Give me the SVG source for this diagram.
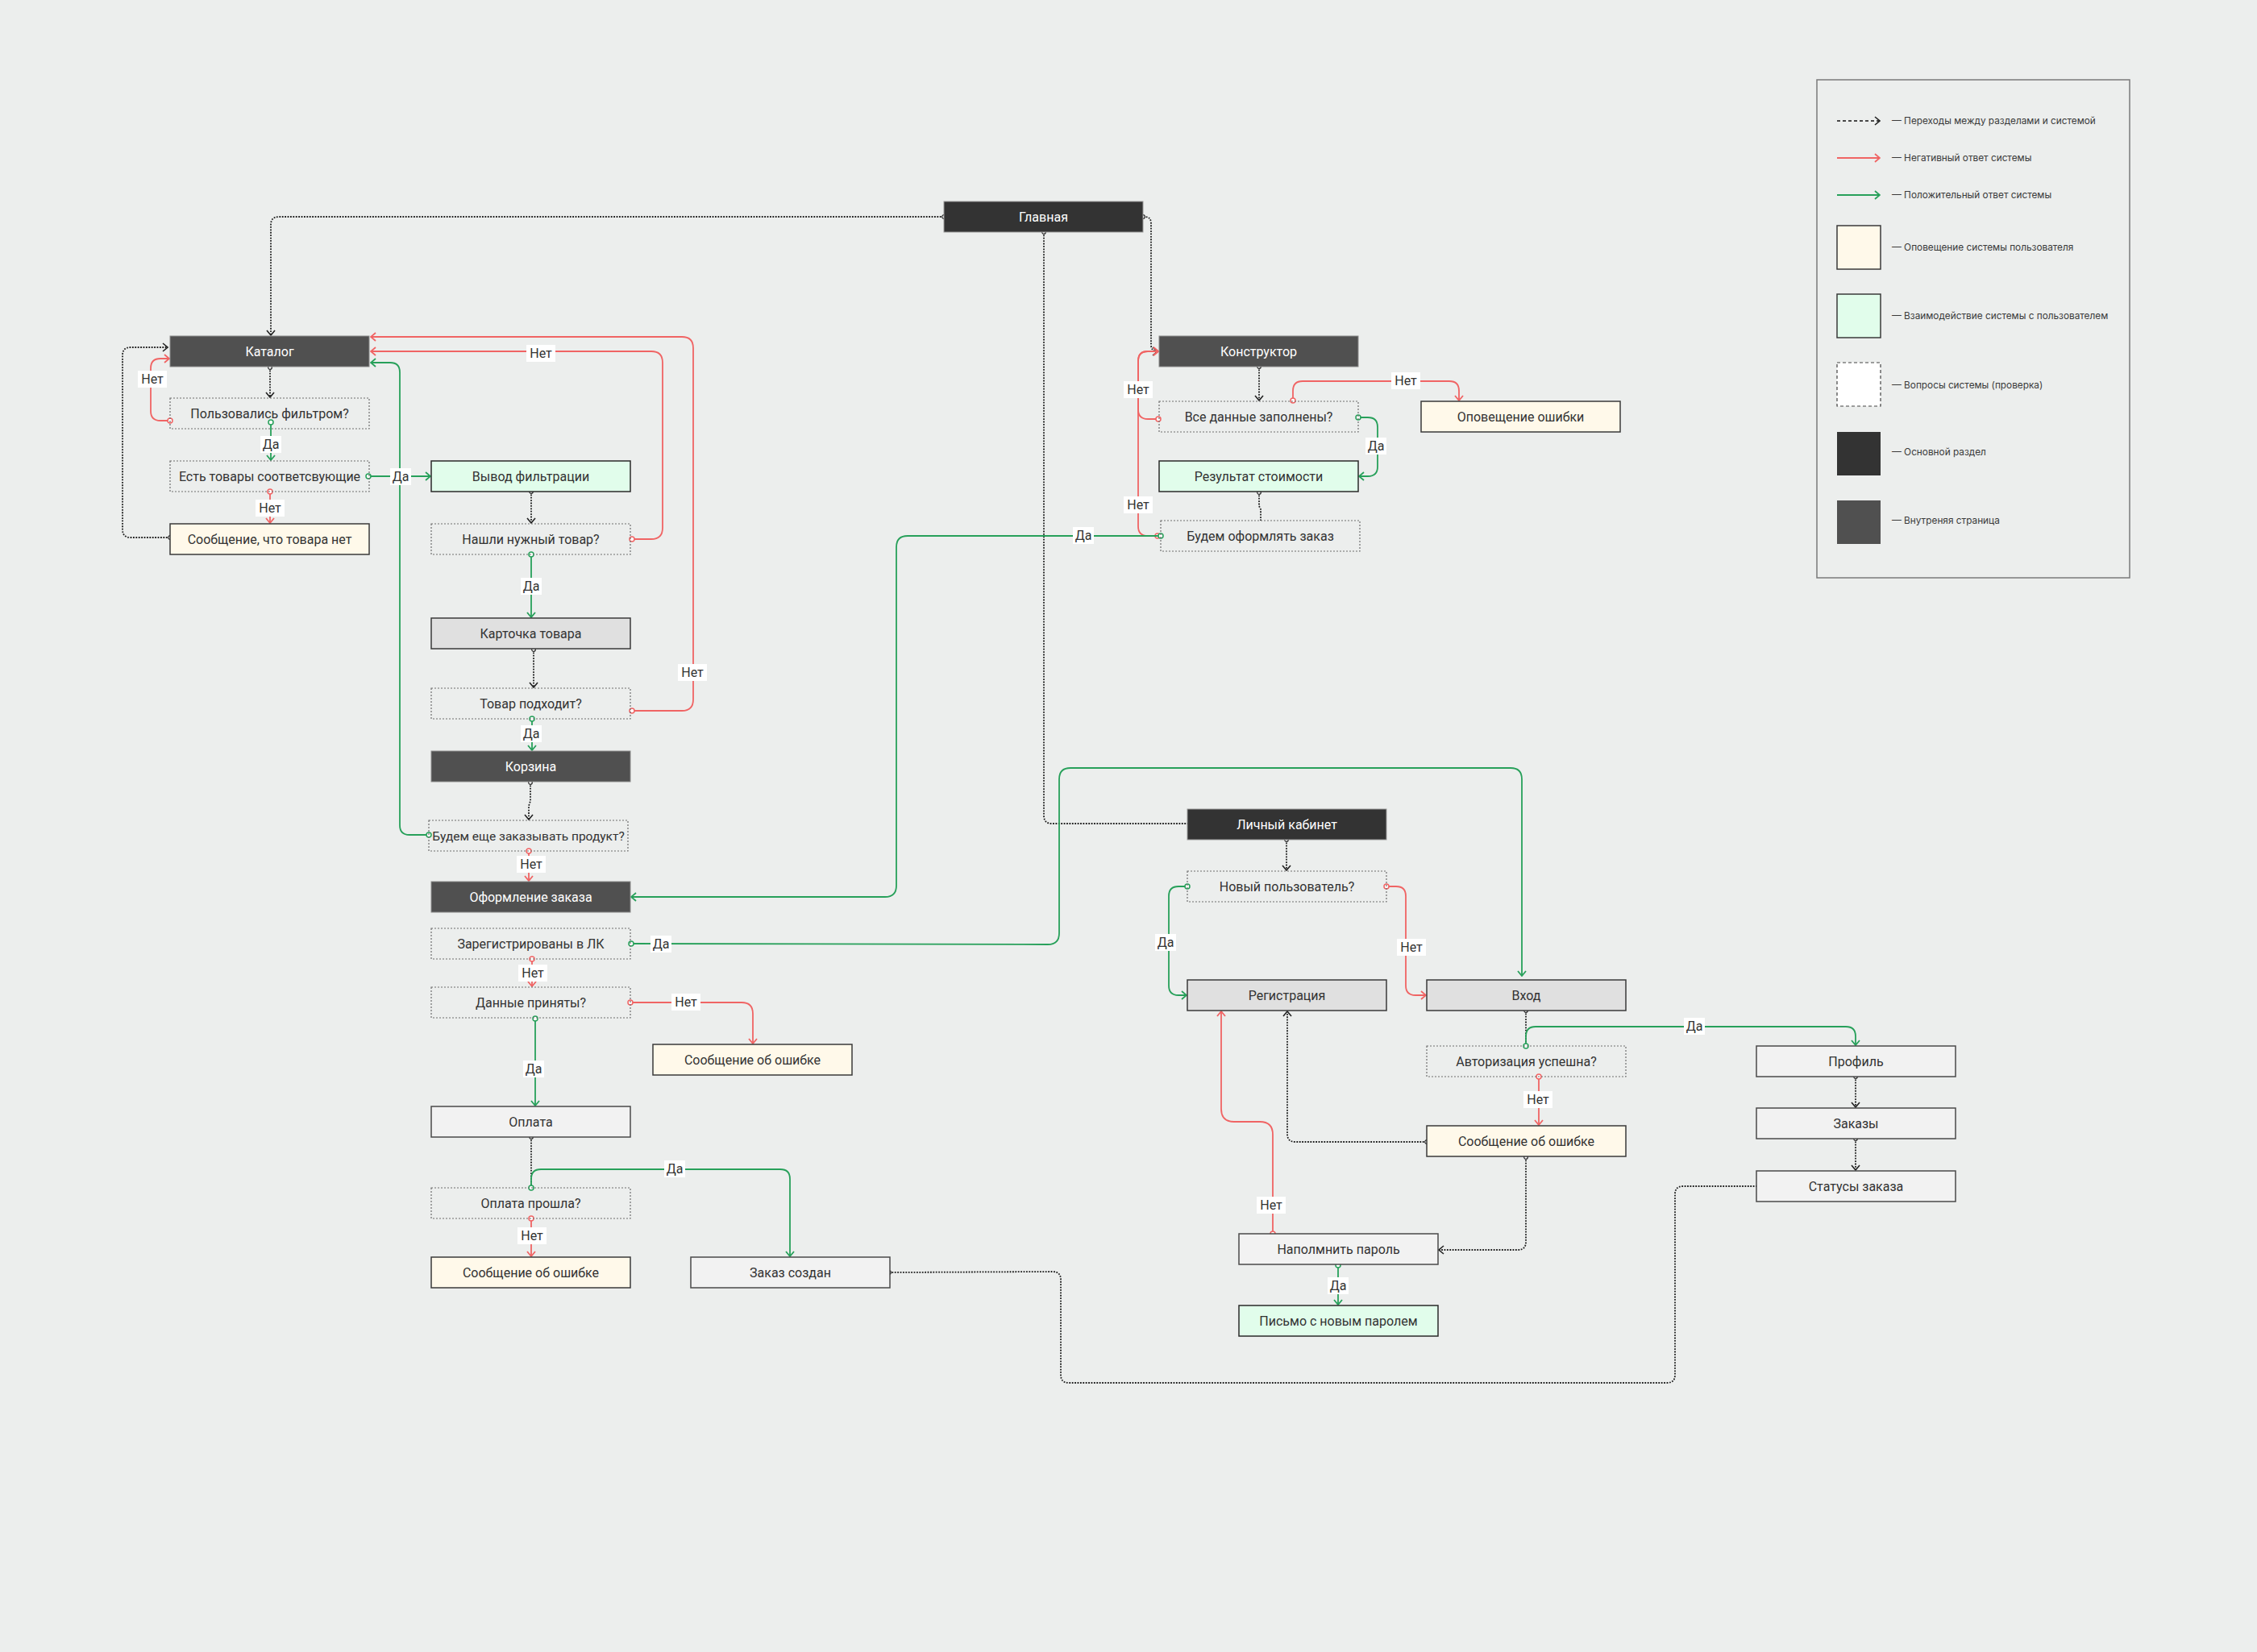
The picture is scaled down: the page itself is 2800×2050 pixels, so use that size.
<svg xmlns="http://www.w3.org/2000/svg" width="2800" height="2050" viewBox="0 0 2800 2050">
<style>
.bg{fill:#ECEEED}
.n rect{stroke-width:1.5}
.n text{font-family:Roboto,"Liberation Sans",sans-serif;font-size:16px;text-anchor:middle}
.dark rect{fill:#333333;stroke:#9A9A9A;stroke-width:1}
.inner rect{fill:#505050;stroke:#8A8A8A;stroke-width:1}
.dark text,.inner text{fill:#FFFFFF}
.q rect{fill:none;stroke:#6E6E6E;stroke-width:1.2;stroke-dasharray:2 2}
.yel rect{fill:#FFF9EA;stroke:#3A3A3A}
.grn rect{fill:#E1FDEB;stroke:#2A2A2A}
.gry rect{fill:#E0E0E0;stroke:#3A3A3A}
.lt rect{fill:#F2F2F2;stroke:#4A4A4A}
.q text,.yel text,.grn text,.gry text,.lt text{fill:#333333}
.c path{fill:none}
.cd{stroke:#1E1E1E;stroke-width:1.8;stroke-dasharray:1.8 1.6}
.cr{stroke:#F06464;stroke-width:1.8}
.cg{stroke:#27A05A;stroke-width:1.8}
.lb rect{fill:#FFFFFF}
.lb text{font-family:Roboto,"Liberation Sans",sans-serif;font-size:16px;fill:#333;text-anchor:middle}
.lg text{font-family:Inter,Roboto,"Liberation Sans",sans-serif;font-size:11.8px;fill:#3A3A3A}
</style>
<defs>
<marker id="aK" viewBox="0 0 12 12" refX="11" refY="6" markerWidth="12" markerHeight="12" markerUnits="userSpaceOnUse" orient="auto"><path d="M5,1 L11,6 L5,11" fill="none" stroke="#222" stroke-width="1.6"/></marker>
<marker id="aR" viewBox="0 0 12 12" refX="11" refY="6" markerWidth="12" markerHeight="12" markerUnits="userSpaceOnUse" orient="auto"><path d="M5,1 L11,6 L5,11" fill="none" stroke="#F06464" stroke-width="1.8"/></marker>
<marker id="aG" viewBox="0 0 12 12" refX="11" refY="6" markerWidth="12" markerHeight="12" markerUnits="userSpaceOnUse" orient="auto"><path d="M5,1 L11,6 L5,11" fill="none" stroke="#27A05A" stroke-width="1.8"/></marker>
<marker id="sK" viewBox="0 0 8 8" refX="4" refY="4" markerWidth="8" markerHeight="8" markerUnits="userSpaceOnUse"><circle cx="4" cy="4" r="2.3" fill="#FFFFFF" stroke="#222" stroke-width="1.2"/></marker>
<marker id="sR" viewBox="0 0 10 10" refX="5" refY="5" markerWidth="10" markerHeight="10" markerUnits="userSpaceOnUse"><circle cx="5" cy="5" r="3" fill="#FFFFFF" stroke="#F06464" stroke-width="1.5"/></marker>
<marker id="sG" viewBox="0 0 10 10" refX="5" refY="5" markerWidth="10" markerHeight="10" markerUnits="userSpaceOnUse"><circle cx="5" cy="5" r="3" fill="#FFFFFF" stroke="#27A05A" stroke-width="1.5"/></marker>
</defs>
<rect class="bg" x="0" y="0" width="2800" height="2050"/>

<g id="connectors" class="c">
<!-- dotted transitions -->
<path class="cd" d="M1171,269 L346,269 Q336,269 336,279 L336,416" marker-start="url(#sK)" marker-end="url(#aK)"/>
<path class="cd" d="M1418,269 L1420,269 Q1428,269 1428,277 L1428,428 Q1428,436 1436,436" marker-start="url(#sK)" marker-end="url(#aK)"/>
<path class="cd" d="M1295,288 L1295,1012 Q1295,1022 1305,1022 L1473,1022" marker-start="url(#sK)"/>
<path class="cd" d="M335,456 L335,493" marker-start="url(#sK)" marker-end="url(#aK)"/>
<path class="cd" d="M211,667 L162,667 Q152,667 152,657 L152,441 Q152,431 162,431 L208,431" marker-start="url(#sK)" marker-end="url(#aK)"/>
<path class="cd" d="M659,610 L659,649" marker-start="url(#sK)" marker-end="url(#aK)"/>
<path class="cd" d="M662,806 L662,853" marker-start="url(#sK)" marker-end="url(#aK)"/>
<path class="cd" d="M658,971 L658,994 L656,1000 L656,1017" marker-start="url(#sK)" marker-end="url(#aK)"/>
<path class="cd" d="M1562,455 L1562,497" marker-start="url(#sK)" marker-end="url(#aK)"/>
<path class="cd" d="M1562,611 L1562,628 L1564,632 L1564,646" marker-start="url(#sK)"/>
<path class="cd" d="M659,1411 L659,1474" marker-start="url(#sK)"/>
<path class="cd" d="M1103,1579 L1306,1578 Q1316,1578 1316,1588 L1316,1706 Q1316,1716 1326,1716 L2068,1716 Q2078,1716 2078,1706 L2078,1482 Q2078,1472 2088,1472 L2179,1472" marker-start="url(#sK)"/>
<path class="cd" d="M1596,1042 L1596,1080" marker-start="url(#sK)" marker-end="url(#aK)"/>
<path class="cd" d="M1893,1254 L1893,1298" marker-start="url(#sK)"/>
<path class="cd" d="M1770,1417 L1607,1417 Q1597,1417 1597,1407 L1597,1255" marker-start="url(#sK)" marker-end="url(#aK)"/>
<path class="cd" d="M1893,1436 L1893,1541 Q1893,1551 1883,1551 L1785,1551" marker-start="url(#sK)" marker-end="url(#aK)"/>
<path class="cd" d="M2302,1336 L2302,1374" marker-start="url(#sK)" marker-end="url(#aK)"/>
<path class="cd" d="M2302,1413 L2302,1452" marker-start="url(#sK)" marker-end="url(#aK)"/>
<!-- negative (red) -->
<path class="cr" d="M211,522 L199,522 Q187,522 187,510 L187,457 Q187,445 199,445 L210,445" marker-start="url(#sR)" marker-end="url(#aR)"/>
<path class="cr" d="M335,610 L335,649" marker-start="url(#sR)" marker-end="url(#aR)"/>
<path class="cr" d="M784,669 L808,669 Q822,669 822,655 L822,450 Q822,436 808,436 L460,436" marker-start="url(#sR)" marker-end="url(#aR)"/>
<path class="cr" d="M784,882 L846,882 Q860,882 860,868 L860,432 Q860,418 846,418 L460,418" marker-start="url(#sR)" marker-end="url(#aR)"/>
<path class="cr" d="M656,1056 L656,1093" marker-start="url(#sR)" marker-end="url(#aR)"/>
<path class="cr" d="M1437,520 L1424,520 Q1412,520 1412,508 L1412,448 Q1412,436 1424,436 L1437,436" marker-start="url(#sR)" marker-end="url(#aR)"/>
<path class="cr" d="M1436,665 L1424,665 Q1412,665 1412,653 L1412,448 Q1412,436 1424,436 L1437,436" marker-start="url(#sR)" marker-end="url(#aR)"/>
<path class="cr" d="M1604,497 L1604,485 Q1604,473 1616,473 L1798,473 Q1810,473 1810,485 L1810,497" marker-start="url(#sR)" marker-end="url(#aR)"/>
<path class="cr" d="M660,1190 L660,1224" marker-start="url(#sR)" marker-end="url(#aR)"/>
<path class="cr" d="M782,1244 L920,1244 Q934,1244 934,1258 L934,1295" marker-start="url(#sR)" marker-end="url(#aR)"/>
<path class="cr" d="M659,1512 L659,1559" marker-start="url(#sR)" marker-end="url(#aR)"/>
<path class="cr" d="M1720,1100 L1732,1100 Q1744,1100 1744,1112 L1744,1223 Q1744,1235 1756,1235 L1769,1235" marker-start="url(#sR)" marker-end="url(#aR)"/>
<path class="cr" d="M1909,1336 L1909,1396" marker-start="url(#sR)" marker-end="url(#aR)"/>
<path class="cr" d="M1579,1531 L1579,1408 Q1579,1392 1563,1392 L1531,1392 Q1515,1392 1515,1376 L1515,1255" marker-start="url(#sR)" marker-end="url(#aR)"/>
<!-- positive (green) -->
<path class="cg" d="M336,524 L336,571" marker-start="url(#sG)" marker-end="url(#aG)"/>
<path class="cg" d="M457,591 L534,591" marker-start="url(#sG)" marker-end="url(#aG)"/>
<path class="cg" d="M659,688 L659,766" marker-start="url(#sG)" marker-end="url(#aG)"/>
<path class="cg" d="M660,892 L660,931" marker-start="url(#sG)" marker-end="url(#aG)"/>
<path class="cg" d="M532,1036 L508,1036 Q496,1036 496,1024 L496,462 Q496,450 484,450 L460,450" marker-start="url(#sG)" marker-end="url(#aG)"/>
<path class="cg" d="M1440,665 L1126,665 Q1112,665 1112,679 L1112,1099 Q1112,1113 1098,1113 L783,1113" marker-start="url(#sG)" marker-end="url(#aG)"/>
<path class="cg" d="M1685,518 L1697,518 Q1709,518 1709,530 L1709,579 Q1709,591 1697,591 L1686,591" marker-start="url(#sG)" marker-end="url(#aG)"/>
<path class="cg" d="M783,1171 L1300,1172 Q1314,1172 1314,1158 L1314,967 Q1314,953 1328,953 L1874,953 Q1888,953 1888,967 L1888,1211" marker-start="url(#sG)" marker-end="url(#aG)"/>
<path class="cg" d="M664,1264 L664,1372" marker-start="url(#sG)" marker-end="url(#aG)"/>
<path class="cg" d="M659,1474 L659,1463 Q659,1451 671,1451 L968,1451 Q980,1451 980,1463 L980,1559" marker-start="url(#sG)" marker-end="url(#aG)"/>
<path class="cg" d="M1473,1100 L1462,1100 Q1450,1100 1450,1112 L1450,1223 Q1450,1235 1462,1235 L1472,1235" marker-start="url(#sG)" marker-end="url(#aG)"/>
<path class="cg" d="M1893,1298 L1893,1286 Q1893,1274 1905,1274 L2290,1274 Q2302,1274 2302,1286 L2302,1297" marker-start="url(#sG)" marker-end="url(#aG)"/>
<path class="cg" d="M1660,1570 L1660,1619" marker-start="url(#sG)" marker-end="url(#aG)"/>
<!-- labels -->
<g class="lb">
<rect x="171" y="460" width="36" height="21"/><text x="189" y="476">Нет</text>
<rect x="653" y="428" width="36" height="21"/><text x="671" y="444">Нет</text>
<rect x="841" y="824" width="36" height="21"/><text x="859" y="840">Нет</text>
<rect x="317" y="620" width="36" height="21"/><text x="335" y="636">Нет</text>
<rect x="641" y="1062" width="36" height="21"/><text x="659" y="1078">Нет</text>
<rect x="1394" y="473" width="36" height="21"/><text x="1412" y="489">Нет</text>
<rect x="1394" y="616" width="36" height="21"/><text x="1412" y="632">Нет</text>
<rect x="1726" y="462" width="36" height="21"/><text x="1744" y="478">Нет</text>
<rect x="643" y="1197" width="36" height="21"/><text x="661" y="1213">Нет</text>
<rect x="833" y="1233" width="36" height="21"/><text x="851" y="1249">Нет</text>
<rect x="642" y="1523" width="36" height="21"/><text x="660" y="1539">Нет</text>
<rect x="1733" y="1165" width="36" height="21"/><text x="1751" y="1181">Нет</text>
<rect x="1890" y="1354" width="36" height="21"/><text x="1908" y="1370">Нет</text>
<rect x="1559" y="1485" width="36" height="21"/><text x="1577" y="1501">Нет</text>
<rect x="323" y="541" width="26" height="21"/><text x="336" y="557">Да</text>
<rect x="484" y="581" width="26" height="21"/><text x="497" y="597">Да</text>
<rect x="646" y="717" width="26" height="21"/><text x="659" y="733">Да</text>
<rect x="646" y="900" width="26" height="21"/><text x="659" y="916">Да</text>
<rect x="1331" y="654" width="26" height="21"/><text x="1344" y="670">Да</text>
<rect x="1694" y="543" width="26" height="21"/><text x="1707" y="559">Да</text>
<rect x="807" y="1161" width="26" height="21"/><text x="820" y="1177">Да</text>
<rect x="649" y="1316" width="26" height="21"/><text x="662" y="1332">Да</text>
<rect x="824" y="1440" width="26" height="21"/><text x="837" y="1456">Да</text>
<rect x="1433" y="1159" width="26" height="21"/><text x="1446" y="1175">Да</text>
<rect x="2089" y="1263" width="26" height="21"/><text x="2102" y="1279">Да</text>
<rect x="1647" y="1585" width="26" height="21"/><text x="1660" y="1601">Да</text>
</g>
</g>

<g id="n-glavnaya" class="n dark"><rect x="1171" y="250" width="247" height="38"/><text x="1294.5" y="274.5">Главная</text></g>
<g id="n-lk" class="n dark"><rect x="1473" y="1004" width="247" height="38"/><text x="1596.5" y="1028.5">Личный кабинет</text></g>
<g id="n-katalog" class="n inner"><rect x="211" y="417" width="247" height="38"/><text x="334.5" y="441.5">Каталог</text></g>
<g id="n-konstruktor" class="n inner"><rect x="1438" y="417" width="247" height="38"/><text x="1561.5" y="441.5">Конструктор</text></g>
<g id="n-korzina" class="n inner"><rect x="535" y="932" width="247" height="38"/><text x="658.5" y="956.5">Корзина</text></g>
<g id="n-oformlenie" class="n inner"><rect x="535" y="1094" width="247" height="38"/><text x="658.5" y="1118.5">Оформление заказа</text></g>

<g id="q-filter" class="n q"><rect x="211" y="494" width="247" height="38"/><text x="334.5" y="518.5">Пользовались фильтром?</text></g>
<g id="q-est" class="n q"><rect x="211" y="572" width="247" height="38"/><text x="334.5" y="596.5">Есть товары соответсвующие</text></g>
<g id="q-nashli" class="n q"><rect x="535" y="650" width="247" height="38"/><text x="658.5" y="674.5">Нашли нужный товар?</text></g>
<g id="q-podhodit" class="n q"><rect x="535" y="854" width="247" height="38"/><text x="658.5" y="878.5">Товар подходит?</text></g>
<g id="q-eshe" class="n q"><rect x="532" y="1018" width="247" height="38"/><text x="655.5" y="1042.5" style="font-size:15.5px">Будем еще заказывать продукт?</text></g>
<g id="q-zareg" class="n q"><rect x="535" y="1152" width="247" height="38"/><text x="658.5" y="1176.5">Зарегистрированы в ЛК</text></g>
<g id="q-dannye" class="n q"><rect x="535" y="1225" width="247" height="38"/><text x="658.5" y="1249.5">Данные приняты?</text></g>
<g id="q-oplata" class="n q"><rect x="535" y="1474" width="247" height="38"/><text x="658.5" y="1498.5">Оплата прошла?</text></g>
<g id="q-vse" class="n q"><rect x="1438" y="498" width="247" height="38"/><text x="1561.5" y="522.5">Все данные заполнены?</text></g>
<g id="q-budem" class="n q"><rect x="1440" y="646" width="247" height="38"/><text x="1563.5" y="670.5">Будем оформлять заказ</text></g>
<g id="q-novyi" class="n q"><rect x="1473" y="1081" width="247" height="38"/><text x="1596.5" y="1105.5">Новый пользователь?</text></g>
<g id="q-avtor" class="n q"><rect x="1770" y="1298" width="247" height="38"/><text x="1893.5" y="1322.5">Авторизация успешна?</text></g>

<g id="y-net" class="n yel"><rect x="211" y="650" width="247" height="38"/><text x="334.5" y="674.5">Сообщение, что товара нет</text></g>
<g id="y-err1" class="n yel"><rect x="810" y="1296" width="247" height="38"/><text x="933.5" y="1320.5">Сообщение об ошибке</text></g>
<g id="y-err2" class="n yel"><rect x="535" y="1560" width="247" height="38"/><text x="658.5" y="1584.5">Сообщение об ошибке</text></g>
<g id="y-opov" class="n yel"><rect x="1763" y="498" width="247" height="38"/><text x="1886.5" y="522.5">Оповещение ошибки</text></g>
<g id="y-err3" class="n yel"><rect x="1770" y="1397" width="247" height="38"/><text x="1893.5" y="1421.5">Сообщение об ошибке</text></g>

<g id="g-vyvod" class="n grn"><rect x="535" y="572" width="247" height="38"/><text x="658.5" y="596.5">Вывод фильтрации</text></g>
<g id="g-rezult" class="n grn"><rect x="1438" y="572" width="247" height="38"/><text x="1561.5" y="596.5">Результат стоимости</text></g>
<g id="g-pismo" class="n grn"><rect x="1537" y="1620" width="247" height="38"/><text x="1660.5" y="1644.5">Письмо с новым паролем</text></g>

<g id="e-kartochka" class="n gry"><rect x="535" y="767" width="247" height="38"/><text x="658.5" y="791.5">Карточка товара</text></g>
<g id="e-reg" class="n gry"><rect x="1473" y="1216" width="247" height="38"/><text x="1596.5" y="1240.5">Регистрация</text></g>
<g id="e-vhod" class="n gry"><rect x="1770" y="1216" width="247" height="38"/><text x="1893.5" y="1240.5">Вход</text></g>

<g id="f-oplata" class="n lt"><rect x="535" y="1373" width="247" height="38"/><text x="658.5" y="1397.5">Оплата</text></g>
<g id="f-zakaz" class="n lt"><rect x="857" y="1560" width="247" height="38"/><text x="980.5" y="1584.5">Заказ создан</text></g>
<g id="f-napom" class="n lt"><rect x="1537" y="1531" width="247" height="38"/><text x="1660.5" y="1555.5">Наполмнить пароль</text></g>
<g id="f-profil" class="n lt"><rect x="2179" y="1298" width="247" height="38"/><text x="2302.5" y="1322.5">Профиль</text></g>
<g id="f-zakazy" class="n lt"><rect x="2179" y="1375" width="247" height="38"/><text x="2302.5" y="1399.5">Заказы</text></g>
<g id="f-status" class="n lt"><rect x="2179" y="1453" width="247" height="38"/><text x="2302.5" y="1477.5">Статусы заказа</text></g>

<g id="legend" class="lg">
<rect x="2254" y="99" width="388" height="618" fill="none" stroke="#7A7A7A" stroke-width="1.5"/>
<path d="M2279,150 L2332,150" stroke="#111" stroke-width="1.6" stroke-dasharray="4 3" fill="none" marker-end="url(#aK)"/>
<path d="M2279,196 L2332,196" stroke="#F06464" stroke-width="1.8" fill="none" marker-end="url(#aR)"/>
<path d="M2279,242 L2332,242" stroke="#27A05A" stroke-width="1.8" fill="none" marker-end="url(#aG)"/>
<rect x="2279" y="280" width="54" height="54" fill="#FFF9EA" stroke="#3A3A3A" stroke-width="1.5"/>
<rect x="2279" y="365" width="54" height="54" fill="#E1FDEB" stroke="#3A3A3A" stroke-width="1.5"/>
<rect x="2279" y="450" width="54" height="54" fill="#FFFFFF" stroke="#444" stroke-width="1.2" stroke-dasharray="4 3"/>
<rect x="2279" y="536" width="54" height="54" fill="#333333"/>
<rect x="2279" y="621" width="54" height="54" fill="#505050"/>
<text x="2347" y="154">— Переходы между разделами и системой</text>
<text x="2347" y="200">— Негативный ответ системы</text>
<text x="2347" y="246">— Положительный ответ системы</text>
<text x="2347" y="311">— Оповещение системы пользователя</text>
<text x="2347" y="396">— Взаимодействие системы с пользователем</text>
<text x="2347" y="482">— Вопросы системы (проверка)</text>
<text x="2347" y="565">— Основной раздел</text>
<text x="2347" y="650">— Внутреняя страница</text>
</g>
</svg>
